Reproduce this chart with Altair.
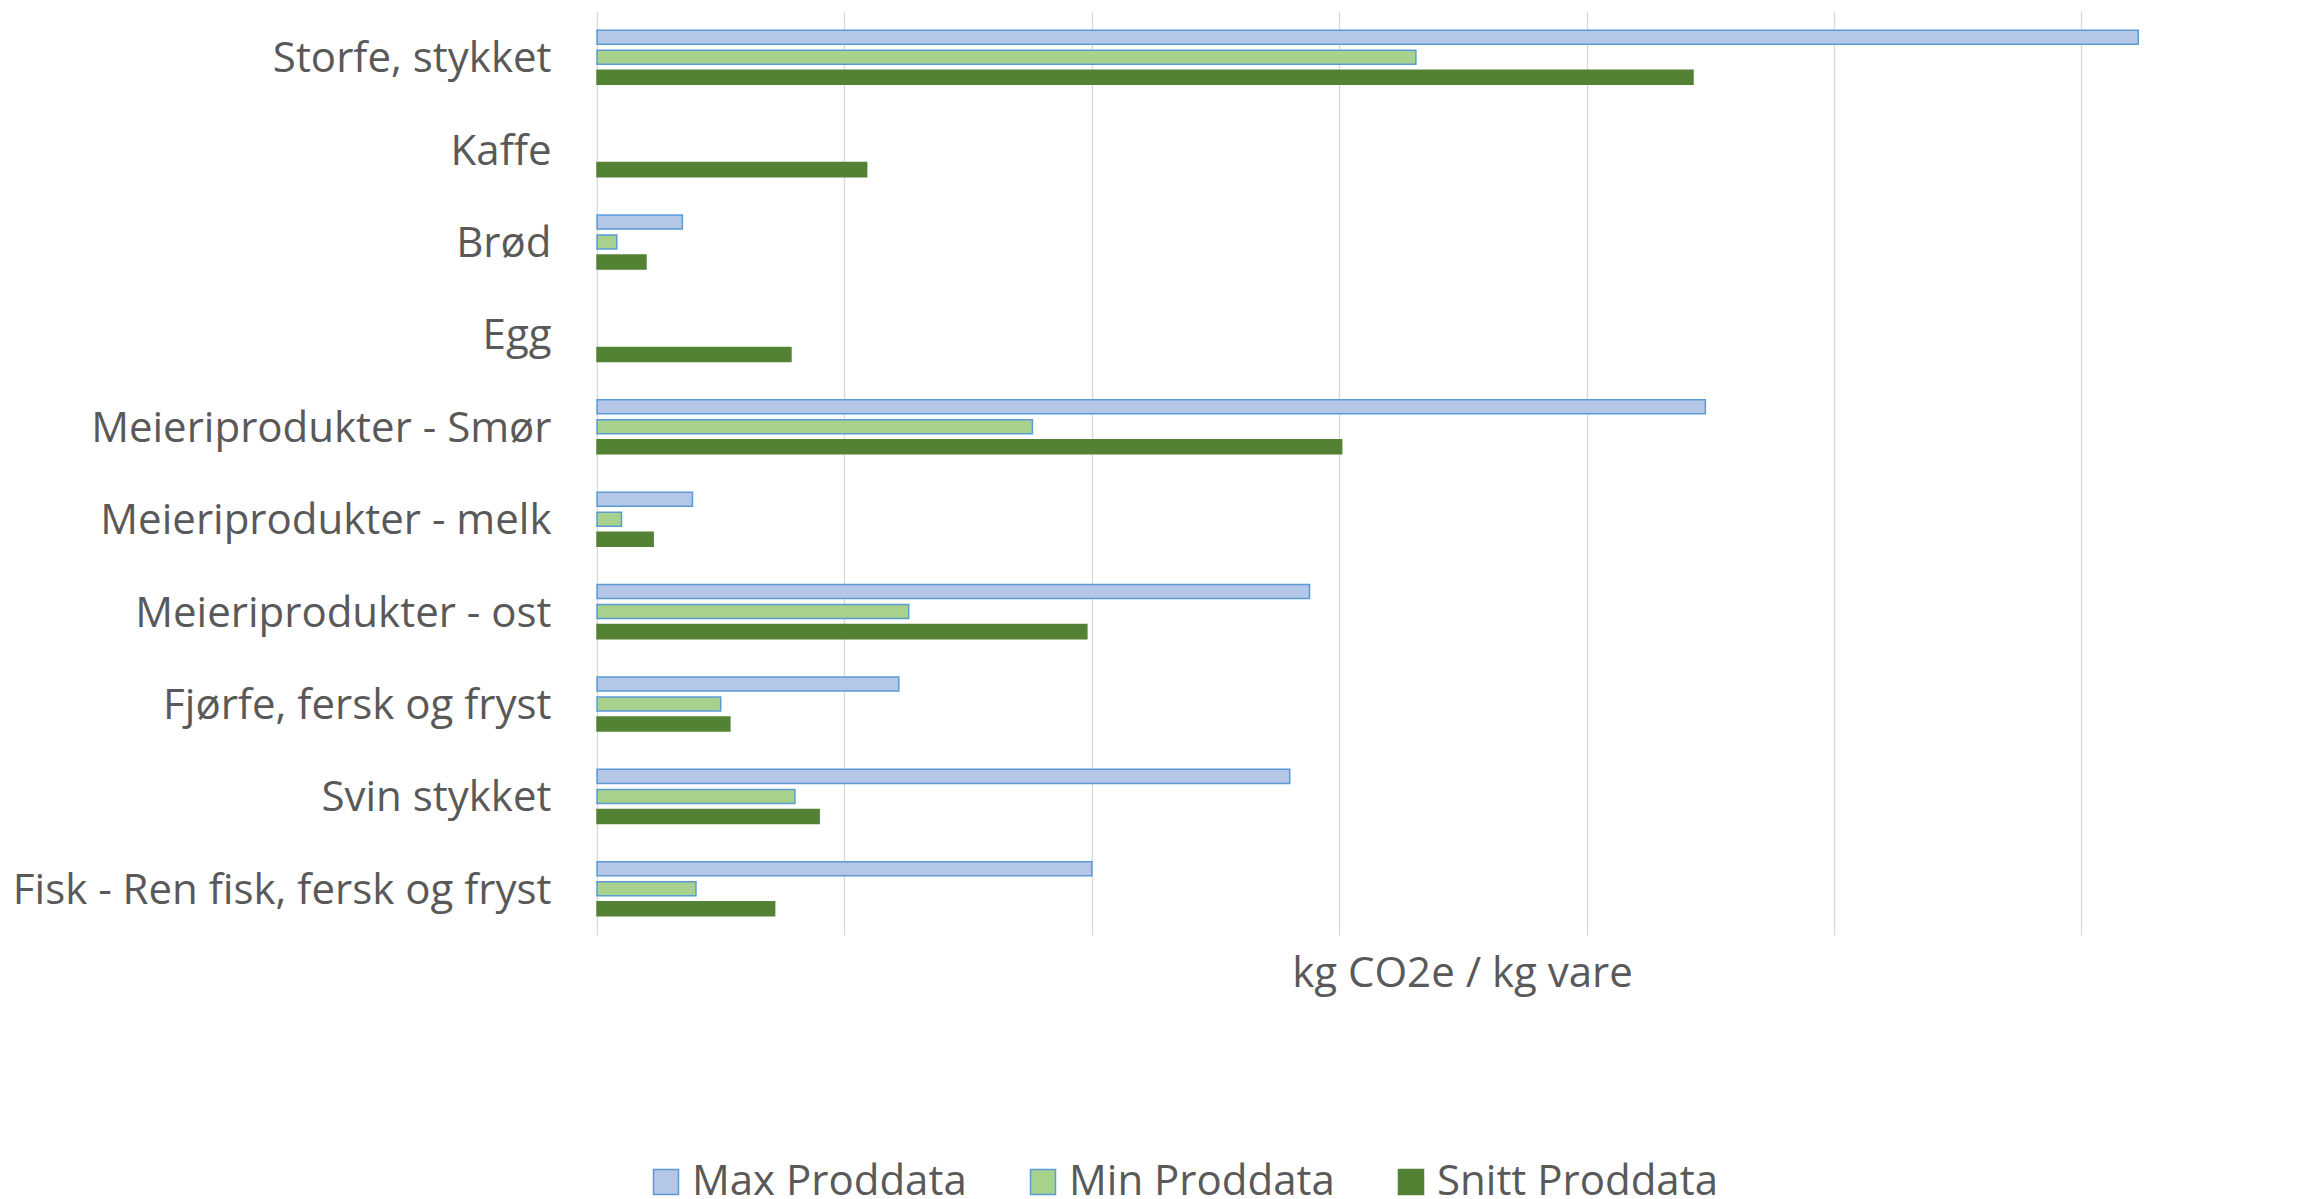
import altair as alt
import pandas as pd

categories = [
    "Storfe, stykket",
    "Kaffe",
    "Brød",
    "Egg",
    "Meieriprodukter - Smør",
    "Meieriprodukter - melk",
    "Meieriprodukter - ost",
    "Fjørfe, fersk og fryst",
    "Svin stykket",
    "Fisk - Ren fisk, fersk og fryst",
]
series = ["Max Proddata", "Min Proddata", "Snitt Proddata"]
max_vals = [62.3, None, 3.45, None, 44.8, 3.86, 28.8, 12.2, 28.0, 20.0]
min_vals = [33.1, None, 0.80, None, 17.6, 0.99, 12.6, 5.0, 8.0, 4.0]
snitt_vals = [44.3, 10.9, 1.98, 7.84, 30.1, 2.27, 19.8, 5.37, 8.98, 7.18]
grid_values = [0, 10, 20, 30, 40, 50, 60]

fills = ["#B4C7E7", "#A9D18E", "#548235"]
strokes = ["#5B9BD5", "#5B9BD5", "#548235"]

rows = []
for s, vals in zip(series, [max_vals, min_vals, snitt_vals]):
    for c, v in zip(categories, vals):
        if v is not None:
            rows.append({"cat": c, "series": s, "value": v})
df = pd.DataFrame(rows)

FONT = "Open Sans"
TXT = "#595959"
FS = 42

legend = alt.Legend(
    title=None,
    orient="none",
    legendX=48,
    legendY=1150,
    direction="horizontal",
    columns=3,
    columnPadding=55,
    labelFontSize=FS,
    labelFont=FONT,
    labelColor=TXT,
    symbolType="square",
    symbolSize=625,
    symbolStrokeWidth=1.5,
    labelOffset=5,
    labelLimit=600,
)

chart = (
    alt.Chart(df)
    .mark_bar(strokeWidth=1.5, opacity=1)
    .encode(
        y=alt.Y(
            "cat:N",
            sort=categories,
            scale=alt.Scale(paddingInner=0.35, paddingOuter=0.175),
            axis=alt.Axis(
                title=None,
                domain=False,
                ticks=False,
                tickSize=0,
                labelPadding=46,
                labelOffset=2,
                labelFontSize=FS,
                labelFont=FONT,
                labelColor=TXT,
                labelLimit=700,
                grid=False,
            ),
        ),
        yOffset=alt.YOffset(
            "series:N",
            sort=series,
            scale=alt.Scale(paddingInner=0.3, paddingOuter=0.15),
        ),
        x=alt.X(
            "value:Q",
            scale=alt.Scale(domain=[0, 69.2], nice=False, zero=True),
            axis=alt.Axis(
                values=grid_values,
                labels=False,
                ticks=False,
                tickSize=0,
                domain=False,
                grid=True,
                gridColor="#D9D9D9",
                gridWidth=1.3,
                title="kg CO2e / kg vare",
                titleFontSize=FS,
                titleFont=FONT,
                titleColor=TXT,
                titleFontWeight="normal",
                titlePadding=18,
                titleX=865,
                titleAlign="center",
            ),
        ),
        fill=alt.Fill("series:N", sort=series, scale=alt.Scale(domain=series, range=fills), legend=legend),
        stroke=alt.Stroke("series:N", sort=series, scale=alt.Scale(domain=series, range=strokes), legend=legend),
    )
    .properties(
        width=1712,
        height=924,
        autosize=alt.AutoSizeParams(type="none"),
        padding={"left": 589, "top": 3, "right": 0, "bottom": 266},
        background="white",
    )
    .configure_view(stroke=None)
)

chart.save("out.html", embed_options={"renderer": "svg", "actions": False})
